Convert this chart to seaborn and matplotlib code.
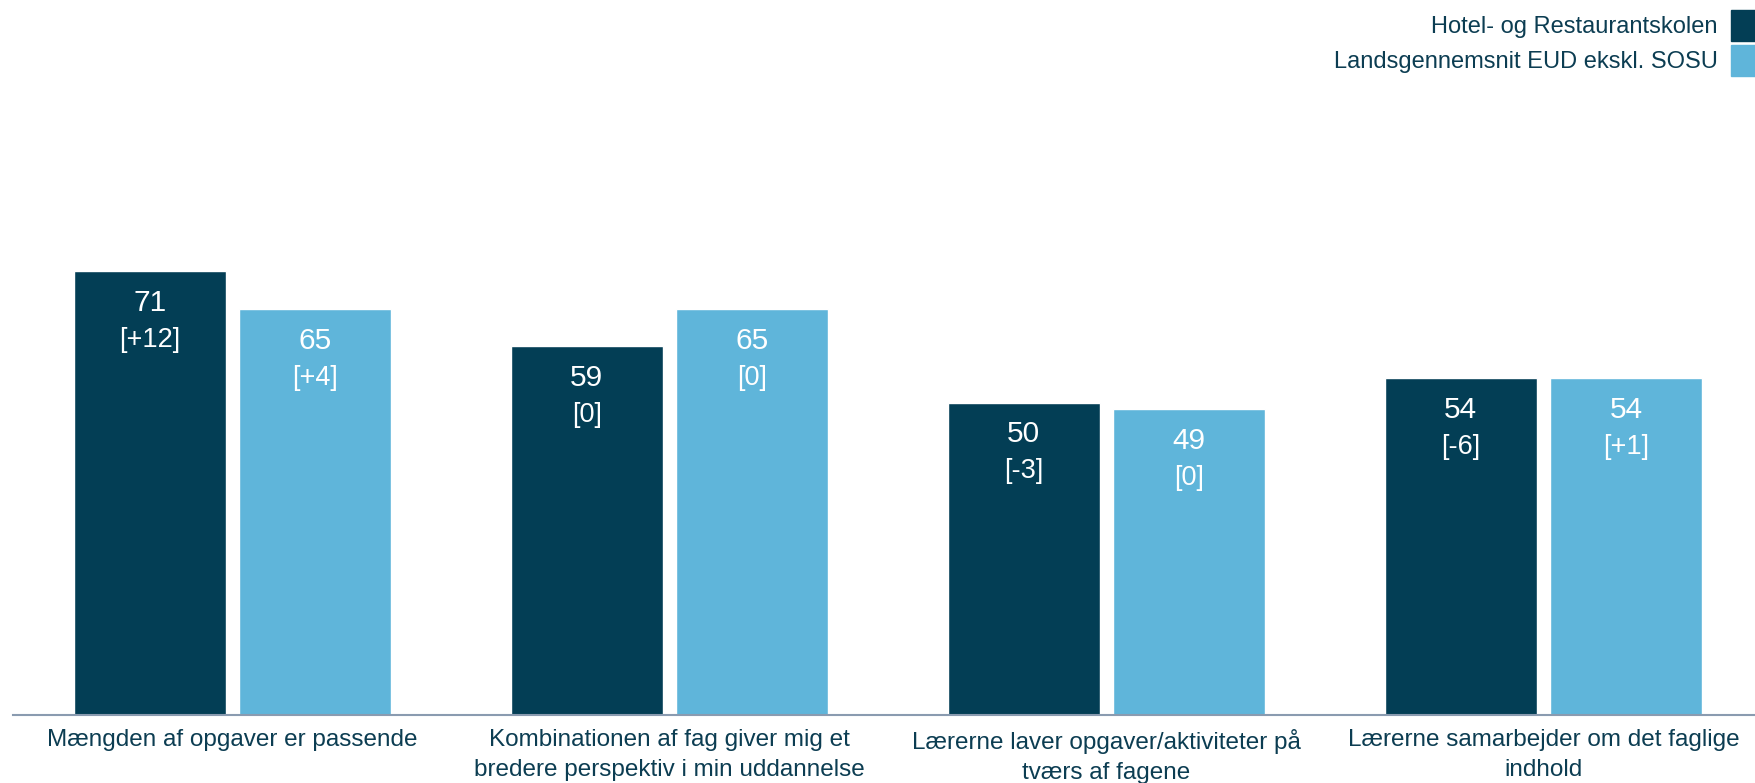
import numpy as np
import pandas as pd
import matplotlib
matplotlib.use("Agg")
import matplotlib.pyplot as plt
from matplotlib.patches import Patch
import seaborn as sns

# data
categories = [
    "Mængden af opgaver er passende",
    "Kombinationen af fag giver mig et\nbredere perspektiv i min uddannelse",
    "Lærerne laver opgaver/aktiviteter på\ntværs af fagene",
    "Lærerne samarbejder om det faglige\nindhold",
]
series_names = ["Hotel- og Restaurantskolen", "Landsgennemsnit EUD ekskl. SOSU"]
school = [71, 59, 50, 54]
national = [65, 65, 49, 54]
school_diff = ["[+12]", "[0]", "[-3]", "[-6]"]
national_diff = ["[+4]", "[0]", "[0]", "[+1]"]

dark = "#033e55"
light = "#5fb5da"
text_col = "#0c3d52"

df = pd.DataFrame({
    "kategori": categories * 2,
    "serie": [series_names[0]] * 4 + [series_names[1]] * 4,
    "score": school + national,
    "diff": school_diff + national_diff,
})

sns.set_style("white")
plt.rcParams["font.family"] = ["Liberation Sans", "DejaVu Sans"]

fig = plt.figure(figsize=(17.56, 7.83), dpi=100)
ax = fig.add_axes([13 / 1756, 68 / 783, 1 - 13 / 1756, 625 / 783])

sns.barplot(data=df, x="kategori", y="score", hue="serie",
            palette=[dark, light], width=0.757, gap=0.08,
            saturation=1, legend=False, ax=ax)

ax.set_ylim(0, 100)
ax.set_xlim(-0.502, 3.486)

# value + difference labels inside bars
for cont, diffs in zip(ax.containers, [school_diff, national_diff]):
    for bar, d in zip(cont, diffs):
        x = bar.get_x() + bar.get_width() / 2
        h = bar.get_height()
        ax.annotate(f"{h:.0f}", (x, h), xytext=(0, -32), textcoords="offset pixels",
                    ha="center", va="center", color="white", fontsize=21.5)
        ax.annotate(d, (x, h), xytext=(0, -69), textcoords="offset pixels",
                    ha="center", va="center", color="white", fontsize=19.5)

for s in ["top", "left", "right"]:
    ax.spines[s].set_visible(False)
ax.spines["bottom"].set_color("#8a9bb0")
ax.spines["bottom"].set_linewidth(1.5)
ax.set_yticks([])
ax.set_xlabel("")
ax.set_ylabel("")
ax.tick_params(axis="x", length=0, pad=10, labelsize=17.5, labelcolor=text_col)
for lab in ax.get_xticklabels():
    lab.set_linespacing(1.45)

handles = [Patch(color=dark), Patch(color=light)]
fig.legend(handles, series_names, loc="upper right",
           bbox_to_anchor=(1, 1 - 10 / 783), bbox_transform=fig.transFigure,
           frameon=False, markerfirst=False, fontsize=17,
           handlelength=1.06, handleheight=1.64, handletextpad=0.55,
           labelspacing=0.17, borderpad=0, borderaxespad=0, labelcolor=text_col)

fig.savefig("out.png", dpi=100)
